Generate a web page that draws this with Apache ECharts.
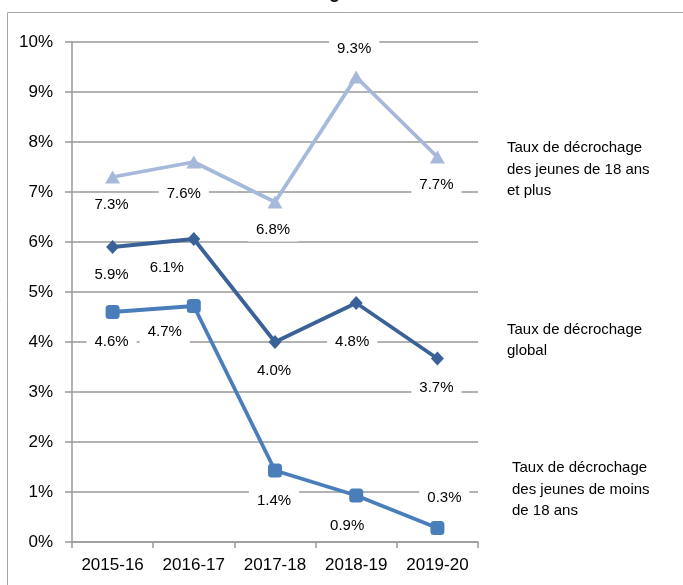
<!DOCTYPE html>
<html>
<head>
<meta charset="utf-8">
<script src="https://cdn.jsdelivr.net/npm/echarts@6/dist/echarts.min.js"></script>
<style>
html,body{margin:0;padding:0;background:#fff;}
#chart{width:683px;height:585px;}
</style>
</head>
<body>
<div id="chart"></div>
<script>
// ---- data ----
const categories = ['2015-16', '2016-17', '2017-18', '2018-19', '2019-20'];
const plus18 = [7.3, 7.6, 6.8, 9.3, 7.7];
const globalRate = [5.9, 6.06, 4.0, 4.78, 3.67];
const under18 = [4.6, 4.72, 1.43, 0.93, 0.28];
const seriesNames = [
  'Taux de décrochage\ndes jeunes de 18 ans\net plus',
  'Taux de décrochage\nglobal',
  'Taux de décrochage\ndes jeunes de moins\nde 18 ans'
];
const chartTitle = 'Taux de décrochage';

// ---- label layout (pixel offsets from each point) ----
const plus18Off = [[-1, 28], [-10, 32], [-2, 28], [-2, -28], [-1, 28]];
const globalOff = [[-1, 28], [-27, 29], [-1, 29], [-4, 39], [-1, 29]];
const under18Off = [[-1, 30], [-29, 26], [-1, 30], [-9, 30], [7, -30]];

const FONT = "'Liberation Sans', Arial, sans-serif";

function withLabels(values, offs) {
  return values.map((v, i) => ({
    value: v,
    label: { offset: offs[i] }
  }));
}

const labelStyle = {
  show: true,
  position: 'inside',
  formatter: p => p.value.toFixed(1) + '%',
  fontFamily: FONT,
  fontSize: 15,
  color: '#000',
  backgroundColor: '#fff',
  padding: [3, 8],
  lineHeight: 17
};

const chart = echarts.init(document.getElementById('chart'));
chart.setOption({
  animation: false,
  backgroundColor: '#fff',
  grid: { left: 72, top: 42, width: 406, height: 500, containLabel: false },
  xAxis: {
    type: 'category',
    data: categories,
    boundaryGap: true,
    axisLine: { show: true, lineStyle: { color: '#999', width: 1.5 } },
    axisTick: { show: true, length: 6, lineStyle: { color: '#999', width: 1.5 } },
    axisLabel: { fontFamily: FONT, fontSize: 17, color: '#000', margin: 15 },
    splitLine: { show: false }
  },
  yAxis: {
    type: 'value',
    min: 0, max: 10, interval: 1,
    axisLine: { show: true, lineStyle: { color: '#999', width: 1.5 } },
    axisTick: { show: true, length: 7, lineStyle: { color: '#999', width: 1.5 } },
    axisLabel: { fontFamily: FONT, fontSize: 17, color: '#000', margin: 19, formatter: '{value}%' },
    splitLine: { show: true, lineStyle: { color: '#999', width: 1.5 } }
  },
  series: [
    {
      name: seriesNames[0], type: 'line',
      data: withLabels(plus18, plus18Off),
      symbol: 'triangle', symbolSize: [15, 13], showAllSymbol: true,
      lineStyle: { color: '#a6b9da', width: 3.8 },
      itemStyle: { color: '#a6b9da' },
      label: labelStyle, z: 3
    },
    {
      name: seriesNames[1], type: 'line',
      data: withLabels(globalRate, globalOff),
      symbol: 'diamond', symbolSize: [13, 14], showAllSymbol: true,
      lineStyle: { color: '#3a6299', width: 3.8 },
      itemStyle: { color: '#3a6299' },
      label: labelStyle, z: 3
    },
    {
      name: seriesNames[2], type: 'line',
      data: withLabels(under18, under18Off),
      symbol: 'roundRect', symbolSize: 14, showAllSymbol: true,
      lineStyle: { color: '#4a7ebb', width: 3.8 },
      itemStyle: { color: '#4a7ebb' },
      label: labelStyle, z: 3
    }
  ],
  graphic: [
    { type: 'rect', silent: true, z: 0,
      shape: { x: 7.5, y: 12.5, width: 800, height: 700 },
      style: { fill: 'none', stroke: '#a6a6a6', lineWidth: 1 } },
    { type: 'text', x: 350, y: 2.5, silent: true,
      style: { text: chartTitle, fontFamily: FONT, fontSize: 18, fontWeight: 'bold', fill: '#000',
               textAlign: 'right', textVerticalAlign: 'bottom' } },
    { type: 'text', x: 507, y: 137.5, silent: true,
      style: { text: seriesNames[0], fontFamily: FONT, fontSize: 15, lineHeight: 21.5, fill: '#000',
               textAlign: 'left', textVerticalAlign: 'top' } },
    { type: 'text', x: 507, y: 319, silent: true,
      style: { text: seriesNames[1], fontFamily: FONT, fontSize: 15, lineHeight: 21.5, fill: '#000',
               textAlign: 'left', textVerticalAlign: 'top' } },
    { type: 'text', x: 512, y: 457.5, silent: true,
      style: { text: seriesNames[2], fontFamily: FONT, fontSize: 15, lineHeight: 21.5, fill: '#000',
               textAlign: 'left', textVerticalAlign: 'top' } }
  ]
});
</script>
</body>
</html>
